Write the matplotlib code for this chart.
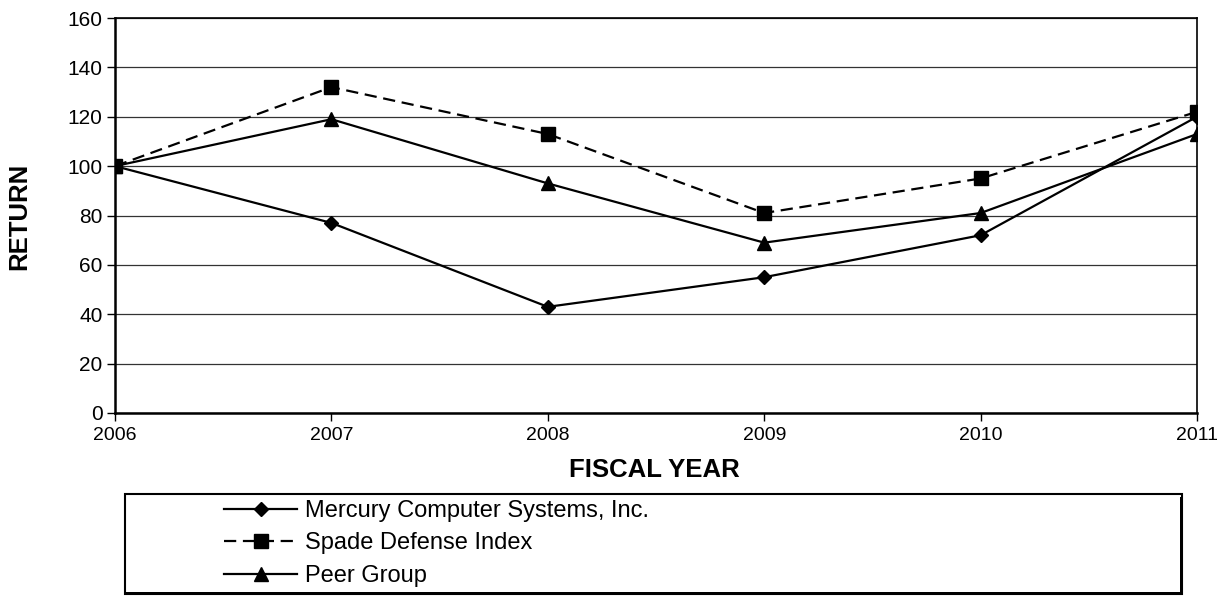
import matplotlib
matplotlib.use("Agg")
import matplotlib.pyplot as plt
from matplotlib.patches import Rectangle

years = [2006, 2007, 2008, 2009, 2010, 2011]
mercury = [100, 77, 43, 55, 72, 120]
spade = [100, 132, 113, 81, 95, 122]
peer = [100, 119, 93, 69, 81, 113]
yticks = [0, 20, 40, 60, 80, 100, 120, 140, 160]
labels = ["Mercury Computer Systems, Inc.", "Spade Defense Index", "Peer Group"]

plt.rcParams['font.family'] = ['Liberation Sans', 'DejaVu Sans']

W, H = 1225, 600
fig = plt.figure(figsize=(W/100, H/100), dpi=100)
ax = fig.add_axes([115/W, 1 - 413/H, (1197-115)/W, (413-18)/H])

l1, = ax.plot(years, mercury, color='black', lw=1.6, marker='D', markersize=7.5, label=labels[0])
l2, = ax.plot(years, spade, color='black', lw=1.6, ls=(0, (5.5, 3)), marker='s', markersize=9.5, label=labels[1])
l3, = ax.plot(years, peer, color='black', lw=1.6, marker='^', markersize=9.5, label=labels[2])

ax.set_xlim(2006, 2011)
ax.set_ylim(0, 160)
ax.set_yticks(yticks)
ax.set_xticks(years)
ax.yaxis.grid(True, color='#333333', lw=0.9)
ax.set_axisbelow(True)
ax.tick_params(axis='both', direction='out', length=6, width=1, colors='black')
ax.tick_params(axis='y', labelsize=15, pad=3)
ax.tick_params(axis='x', labelsize=14, pad=4)
for s in ['left', 'bottom']:
    ax.spines[s].set_linewidth(1.8)
for s in ['top', 'right']:
    ax.spines[s].set_linewidth(1.2)

ax.set_xlabel("FISCAL YEAR", fontsize=18.5, fontweight='bold', va='center')
ax.xaxis.set_label_coords((654-115)/1082, (413-470)/395)
ax.set_ylabel("RETURN", fontsize=18.5, fontweight='bold', va='center')
ax.yaxis.set_label_coords((19-115)/1082, (413-216)/395)

# legend box
x0, x1, y0, y1 = 125, 1182, 494, 594
rect = Rectangle((x0/W, 1 - y1/H), (x1-x0)/W, (y1-y0)/H, transform=fig.transFigure,
                 fill=False, edgecolor='black', lw=1.5)
fig.patches.append(rect)
fig.patches.append(Rectangle(((x1-2)/W, 1 - (y1+1)/H), 3/W, (y1-y0-2)/H, transform=fig.transFigure,
                             fill=True, color='black', lw=0))
fig.patches.append(Rectangle((x0/W, 1 - (y1+1)/H), (x1-x0)/W, 3/H, transform=fig.transFigure,
                             fill=True, color='black', lw=0))

fig.legend(handles=[l1, l2, l3], loc='upper left', bbox_to_anchor=(224/W, 1 - 500/H),
           frameon=False, fontsize=17, handlelength=3.1, handletextpad=0.34, labelspacing=0.44,
           borderaxespad=0, borderpad=0)

fig.savefig("out.png", dpi=100)
